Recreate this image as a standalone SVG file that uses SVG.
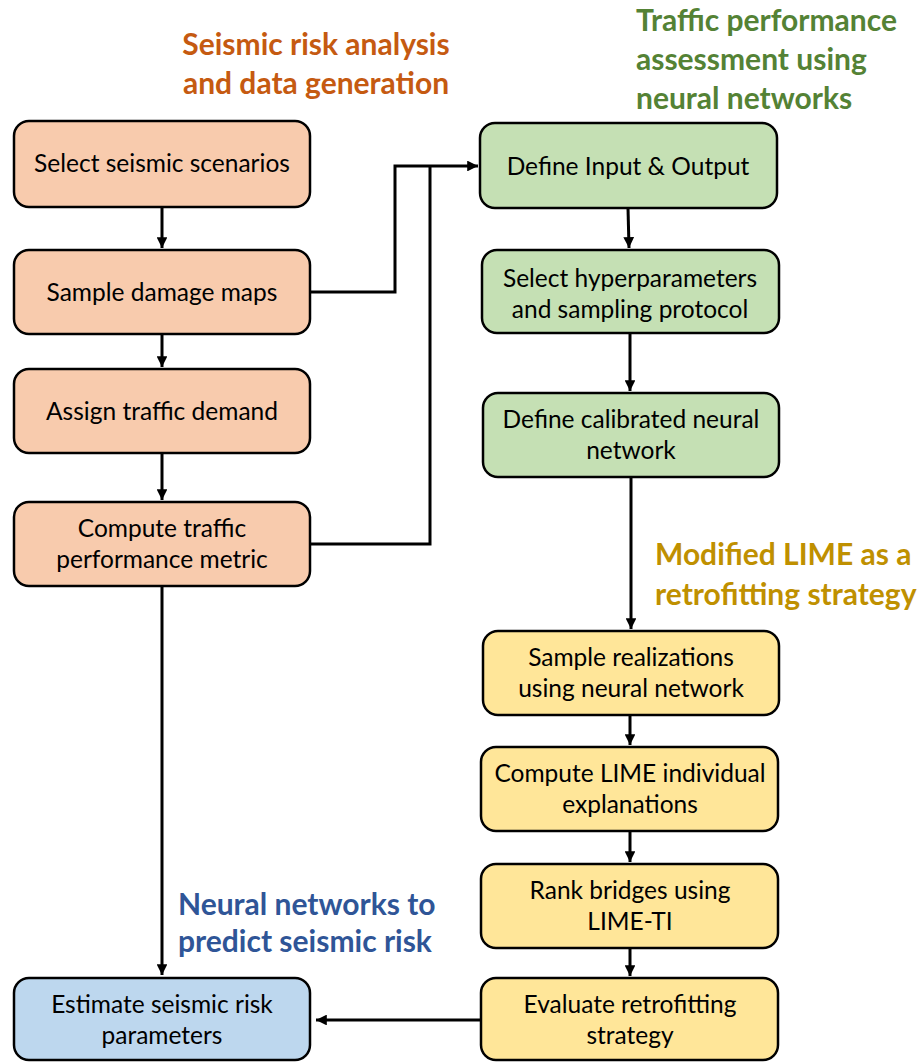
<svg xmlns="http://www.w3.org/2000/svg" width="917" height="1062" viewBox="0 0 917 1062">
<style>
.box{stroke:#000;stroke-width:2.5}
.o{fill:#F8CBAD}.g{fill:#C5E0B4}.y{fill:#FFE699}.b{fill:#BDD7EE}
.t{font-family:Lato,"Liberation Sans",sans-serif;font-size:24.5px;fill:#000;text-anchor:middle}
.h{font-family:Lato,"Liberation Sans",sans-serif;font-size:30px;font-weight:bold}
.c{fill:none;stroke:#000;stroke-width:3}
</style>
<defs>
<marker id="ah" viewBox="0 0 10 10" refX="10" refY="5" markerWidth="3.6" markerHeight="3.6" orient="auto" markerUnits="strokeWidth">
<path d="M0,0 L10,5 L0,10 z" fill="#000"/>
</marker>
</defs>
<rect width="917" height="1062" fill="#fff"/>
<g id="titles">
<text class="h" x="316" y="55" text-anchor="middle" fill="#C55A11">Seismic risk analysis</text>
<text class="h" x="316" y="94" text-anchor="middle" fill="#C55A11">and data generation</text>
<text class="h" x="636" y="31" fill="#548235">Traffic performance</text>
<text class="h" x="636" y="70" fill="#548235">assessment using</text>
<text class="h" x="636" y="109" fill="#548235">neural networks</text>
<text class="h" x="655" y="565" fill="#BF9000">Modified LIME as a</text>
<text class="h" x="655" y="605" fill="#BF9000">retrofitting strategy</text>
<text class="h" x="178" y="915" fill="#2F5597">Neural networks to</text>
<text class="h" x="178" y="952" fill="#2F5597">predict seismic risk</text>
</g>
<g id="connectors">
<path class="c" d="M162,207 V248" marker-end="url(#ah)"/>
<path class="c" d="M162,334 V367" marker-end="url(#ah)"/>
<path class="c" d="M162,453 V500" marker-end="url(#ah)"/>
<path class="c" d="M162,586 V975" marker-end="url(#ah)"/>
<path class="c" d="M310,292 H395 V166 H478" marker-end="url(#ah)"/>
<path class="c" d="M310,544 H430 V166"/>
<path class="c" d="M628,208 L629,248" marker-end="url(#ah)"/>
<path class="c" d="M630,333 V391" marker-end="url(#ah)"/>
<path class="c" d="M631,477 V629" marker-end="url(#ah)"/>
<path class="c" d="M630,715 V745" marker-end="url(#ah)"/>
<path class="c" d="M630,831 V862" marker-end="url(#ah)"/>
<path class="c" d="M630,948 V976" marker-end="url(#ah)"/>
<path class="c" d="M481,1020 H316" marker-end="url(#ah)"/>
</g>
<g id="n1"><rect class="box o" x="14" y="121" width="296" height="86" rx="15"/><text class="t" x="162" y="172">Select seismic scenarios</text></g>
<g id="n2"><rect class="box o" x="14" y="250" width="296" height="84" rx="15"/><text class="t" x="162" y="301">Sample damage maps</text></g>
<g id="n3"><rect class="box o" x="14" y="369" width="296" height="84" rx="15"/><text class="t" x="162" y="420">Assign traffic demand</text></g>
<g id="n4"><rect class="box o" x="14" y="502" width="296" height="84" rx="15"/><text class="t" x="162" y="537">Compute traffic</text><text class="t" x="162" y="568">performance metric</text></g>
<g id="n5"><rect class="box b" x="14" y="978" width="296" height="82" rx="15"/><text class="t" x="162" y="1013">Estimate seismic risk</text><text class="t" x="162" y="1044">parameters</text></g>
<g id="n6"><rect class="box g" x="480" y="123" width="297" height="85" rx="15"/><text class="t" x="628" y="175">Define Input &amp; Output</text></g>
<g id="n7"><rect class="box g" x="482" y="250" width="297" height="83" rx="15"/><text class="t" x="630" y="287">Select hyperparameters</text><text class="t" x="630" y="318">and sampling protocol</text></g>
<g id="n8"><rect class="box g" x="483" y="393" width="296" height="84" rx="15"/><text class="t" x="631" y="428">Define calibrated neural</text><text class="t" x="631" y="459">network</text></g>
<g id="n9"><rect class="box y" x="483" y="631" width="296" height="84" rx="15"/><text class="t" x="631" y="666">Sample realizations</text><text class="t" x="631" y="697">using neural network</text></g>
<g id="n10"><rect class="box y" x="481" y="747" width="297" height="84" rx="15"/><text class="t" x="630" y="782">Compute LIME individual</text><text class="t" x="630" y="813">explanations</text></g>
<g id="n11"><rect class="box y" x="481" y="864" width="297" height="84" rx="15"/><text class="t" x="630" y="899">Rank bridges using</text><text class="t" x="630" y="930">LIME-TI</text></g>
<g id="n12"><rect class="box y" x="481" y="978" width="297" height="82" rx="15"/><text class="t" x="630" y="1013">Evaluate retrofitting</text><text class="t" x="630" y="1044">strategy</text></g>
</svg>
